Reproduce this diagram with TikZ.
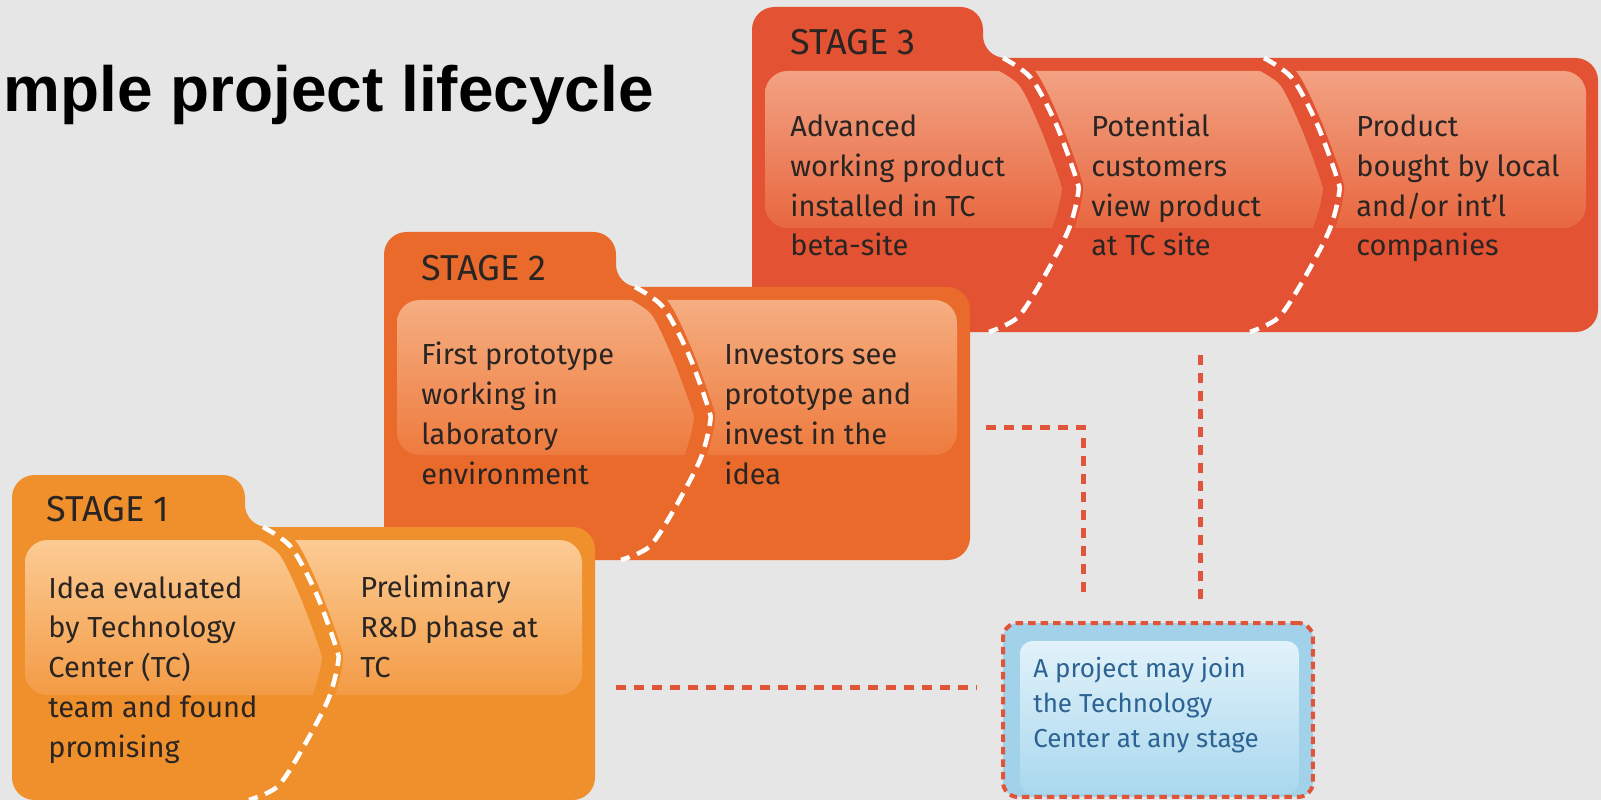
\documentclass[tikz,border=0pt]{standalone}
\usepackage{fontspec}
\setmainfont{Fira Sans}
\newfontfamily\headfont{Liberation Sans}

\definecolor{bg}{HTML}{E6E6E6}
\definecolor{ink}{HTML}{2A2522}
\definecolor{st1}{HTML}{F0902C}
\definecolor{st1hi}{HTML}{FCCB94}
\definecolor{st1lo}{HTML}{F39B45}
\definecolor{st2}{HTML}{EA6A2C}
\definecolor{st2hi}{HTML}{F5AE82}
\definecolor{st2lo}{HTML}{EE7B3E}
\definecolor{st3}{HTML}{E35232}
\definecolor{st3hi}{HTML}{F2A283}
\definecolor{st3lo}{HTML}{E8673F}
\definecolor{link}{HTML}{E0553A}
\definecolor{sky}{HTML}{A2D2EA}
\definecolor{skyhi}{HTML}{E2F2FA}
\definecolor{skylo}{HTML}{A9D8EE}
\definecolor{skyink}{HTML}{2C6393}

\begin{document}
\begin{tikzpicture}[x=0.02cm, y=-0.02cm,
  txt/.style={anchor=base west, inner sep=0, align=left, text=ink, font=\fontsize{16.5}{22.6}\selectfont},
  head/.style={anchor=base west, inner sep=0, text=ink, font=\fontsize{20.5}{24}\selectfont},
  gap/.style={draw=#1, line width=0.42cm},
  cut/.style={white, line width=0.09cm, dash pattern=on 0.27cm off 0.16cm},
  link/.style={draw=link, line width=0.1cm, dash pattern=on 0.2cm off 0.16cm},
  joinbox/.style={fill=sky, draw=link, line width=0.08cm, dash pattern=on 0.15cm off 0.1cm,
    rounded corners=0.3cm, minimum width=6.2cm, minimum height=3.48cm}]

\fill[bg] (0,0) rectangle (1601,800);
\useasboundingbox (0,0) rectangle (1601,800);

% title
\node[anchor=base west, inner sep=0, font=\headfont\bfseries\fontsize{36.4}{40}\selectfont] (title) at (3,112) {mple project lifecycle};

% stage 3
\fill[st3, rounded corners=0.45cm] (752,332) -- (752,7) -- (983,7) -- (983,58) -- (1598,58) -- (1598,332) -- cycle;
\shade[top color=st3hi, bottom color=st3lo, rounded corners=0.45cm] (765,71) rectangle (1586,228);
\begin{scope}
\clip (765,71) rectangle (1586,228);
\foreach \x in {752,1013} {\draw[gap=st3, shift={(\x-6,58)}] plot[smooth] coordinates {(251,0) (281,20) (304,66) (324,120) (326,136) (316,173) (288,226) (265,260) (237,274)};}
\end{scope}
\foreach \x in {752,1013} {\draw[cut, shift={(\x,58)}] plot[smooth] coordinates {(251,0) (279,20) (304,66) (324,120) (326,136) (316,173) (288,226) (265,260) (237,274)};}
\node[head] (s3t) at (790,55) {STAGE 3};
\node[txt] (s3a) at (790,256) {Advanced\\working product\\installed in TC\\beta-site};
\node[txt] (s3b) at (1091,256) {Potential\\customers\\view product\\at TC site};
\node[txt] (s3c) at (1356,256) {Product\\bought by local\\and/or int’l\\companies};

% stage 2
\fill[st2, rounded corners=0.45cm] (384,560) -- (384,232) -- (616,232) -- (616,287) -- (970,287) -- (970,560) -- cycle;
\shade[top color=st2hi, bottom color=st2lo, rounded corners=0.45cm] (397,300) rectangle (957,455);
\begin{scope}
\clip (397,300) rectangle (957,455);
\draw[gap=st2, shift={(378,287)}] plot[smooth] coordinates {(251,0) (281,20) (304,66) (324,120) (326,136) (316,173) (288,226) (265,260) (237,273)};
\end{scope}
\draw[cut, shift={(384,287)}] plot[smooth] coordinates {(251,0) (279,20) (304,66) (324,120) (326,136) (316,173) (288,226) (265,260) (237,273)};
\node[head] (s2t) at (421,281) {STAGE 2};
\node[txt] (s2a) at (421,484) {First prototype\\working in\\laboratory\\environment};
\node[txt] (s2b) at (724,484) {Investors see\\prototype and\\invest in the\\idea};

% stage 1
\fill[st1, rounded corners=0.45cm] (12,800) -- (12,475) -- (245,475) -- (245,527) -- (595,527) -- (595,800) -- cycle;
\shade[top color=st1hi, bottom color=st1lo, rounded corners=0.45cm] (25,540) rectangle (582,695);
\begin{scope}
\clip (25,540) rectangle (582,695);
\draw[gap=st1, shift={(6,527)}] plot[smooth] coordinates {(251,0) (281,20) (304,66) (324,120) (326,136) (316,173) (288,226) (265,260) (237,273)};
\end{scope}
\draw[cut, shift={(12,527)}] plot[smooth] coordinates {(251,0) (279,20) (304,66) (324,120) (326,136) (316,173) (288,226) (265,260) (237,273)};
\node[head] (s1t) at (46,521) {STAGE 1};
\node[txt] (s1a) at (48,757) {Idea evaluated\\by Technology\\Center (TC)\\team and found\\promising};
\node[txt] (s1b) at (360,677) {Preliminary\\R\&D phase at\\TC};

% join box
\node[joinbox] (join) at (1158,710) {};
\shade[top color=skyhi, bottom color=skylo, rounded corners=0.25cm] ([shift={(19,20)}]join.north west) rectangle ([shift={(-16,-5)}]join.south east);
\node[txt, text=skyink, font=\fontsize{14.8}{19.9}\selectfont] (jt) at (1033,747) {A project may join\\the Technology\\Center at any stage};

% links
\coordinate (s1r) at (616,687);
\coordinate (j1) at (977,687);
\coordinate (s2r) at (986,427);
\coordinate (j2) at (1083,597);
\coordinate (s3b') at (1200,355);
\coordinate (j3) at (1200,602);
\draw[link] (s1r) -- (j1);
\draw[link] (s2r) -| (j2);
\draw[link] (s3b') -- (j3);

\end{tikzpicture}
\end{document}
